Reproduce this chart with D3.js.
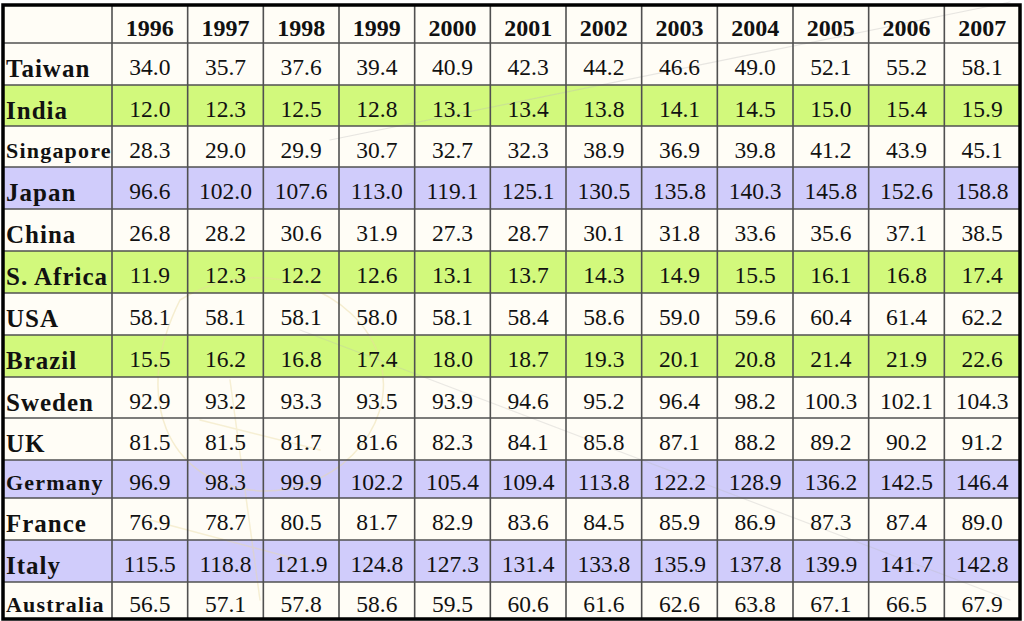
<!DOCTYPE html>
<html>
<head>
<meta charset="utf-8">
<script src="https://cdn.jsdelivr.net/npm/d3@7"></script>
<style>
  html, body { margin: 0; padding: 0; background: #ffffff; }
  svg { display: block; }
</style>
</head>
<body>
<svg id="chart" width="1024" height="621"></svg>
<script>
// ---- data ----
const years = ["1996","1997","1998","1999","2000","2001","2002","2003","2004","2005","2006","2007"];
const countries = ["Taiwan","India","Singapore","Japan","China","S. Africa","USA","Brazil","Sweden","UK","Germany","France","Italy","Australia"];
const taiwan    = [34.0, 35.7, 37.6, 39.4, 40.9, 42.3, 44.2, 46.6, 49.0, 52.1, 55.2, 58.1];
const india     = [12.0, 12.3, 12.5, 12.8, 13.1, 13.4, 13.8, 14.1, 14.5, 15.0, 15.4, 15.9];
const singapore = [28.3, 29.0, 29.9, 30.7, 32.7, 32.3, 38.9, 36.9, 39.8, 41.2, 43.9, 45.1];
const japan     = [96.6, 102.0, 107.6, 113.0, 119.1, 125.1, 130.5, 135.8, 140.3, 145.8, 152.6, 158.8];
const china     = [26.8, 28.2, 30.6, 31.9, 27.3, 28.7, 30.1, 31.8, 33.6, 35.6, 37.1, 38.5];
const safrica   = [11.9, 12.3, 12.2, 12.6, 13.1, 13.7, 14.3, 14.9, 15.5, 16.1, 16.8, 17.4];
const usa       = [58.1, 58.1, 58.1, 58.0, 58.1, 58.4, 58.6, 59.0, 59.6, 60.4, 61.4, 62.2];
const brazil    = [15.5, 16.2, 16.8, 17.4, 18.0, 18.7, 19.3, 20.1, 20.8, 21.4, 21.9, 22.6];
const sweden    = [92.9, 93.2, 93.3, 93.5, 93.9, 94.6, 95.2, 96.4, 98.2, 100.3, 102.1, 104.3];
const uk        = [81.5, 81.5, 81.7, 81.6, 82.3, 84.1, 85.8, 87.1, 88.2, 89.2, 90.2, 91.2];
const germany   = [96.9, 98.3, 99.9, 102.2, 105.4, 109.4, 113.8, 122.2, 128.9, 136.2, 142.5, 146.4];
const france    = [76.9, 78.7, 80.5, 81.7, 82.9, 83.6, 84.5, 85.9, 86.9, 87.3, 87.4, 89.0];
const italy     = [115.5, 118.8, 121.9, 124.8, 127.3, 131.4, 133.8, 135.9, 137.8, 139.9, 141.7, 142.8];
const australia = [56.5, 57.1, 57.8, 58.6, 59.5, 60.6, 61.6, 62.6, 63.8, 67.1, 66.5, 67.9];
const seriesValues = [taiwan, india, singapore, japan, china, safrica, usa, brazil, sweden, uk, germany, france, italy, australia];
// row highlight group: 0 = plain, 1 = green, 2 = lavender
const rowGroup = [0, 1, 0, 2, 0, 1, 0, 1, 0, 0, 2, 0, 2, 0];

// ---- layout ----
const W = 1024, H = 621;
const tLeft = 3, tRight = 1020, tTop = 5, tBottom = 619;
const labelColRight = 112;
const headerBottom = 43;
const rowEdges = [43, 85, 126, 167, 209, 251, 293, 335, 377, 418, 460, 498, 540, 582, 619];

const svg = d3.select("#chart");

const x = d3.scaleBand().domain(years).range([labelColRight, tRight]);
const rowTop = d3.scaleOrdinal().domain(countries).range(rowEdges.slice(0, -1));
const rowBot = d3.scaleOrdinal().domain(countries).range(rowEdges.slice(1));
const fillScale = d3.scaleOrdinal().domain([0, 1, 2]).range(["#fffdf6", "#d2f97c", "#d0ccfb"]);

// background
svg.append("rect").attr("x", 0).attr("y", 0).attr("width", W).attr("height", H).attr("fill", "#ffffff");
svg.append("rect").attr("x", tLeft).attr("y", tTop).attr("width", tRight - tLeft).attr("height", tBottom - tTop).attr("fill", "#fffdf6");

// row fills
svg.append("g").selectAll("rect")
  .data(countries)
  .join("rect")
  .attr("x", tLeft)
  .attr("y", d => rowTop(d))
  .attr("width", tRight - tLeft)
  .attr("height", d => rowBot(d) - rowTop(d))
  .attr("fill", (d, i) => fillScale(rowGroup[i]));

// faint watermark decoration
const wm = svg.append("g").attr("fill", "none").attr("stroke-linecap", "round");
wm.append("path").attr("d", "M330,140 L1010,2").attr("stroke", "#bbbbbb").attr("stroke-opacity", 0.35).attr("stroke-width", 1.2);
wm.append("path").attr("d", "M300,330 L1010,600").attr("stroke", "#bbbbbb").attr("stroke-opacity", 0.3).attr("stroke-width", 1.2);
wm.append("path").attr("d", "M180,300 C260,250 360,290 380,360 C400,430 330,500 250,490 C170,480 130,400 180,300 Z")
  .attr("stroke", "#e8d9a0").attr("stroke-opacity", 0.45).attr("stroke-width", 1.5);
wm.append("path").attr("d", "M230,380 L260,600 M200,420 L320,450 M150,520 L300,560")
  .attr("stroke", "#e8d9a0").attr("stroke-opacity", 0.4).attr("stroke-width", 1.5);

// grid lines
const grid = svg.append("g").attr("stroke", "#505050").attr("stroke-width", 1.6);
grid.selectAll("line.h")
  .data(rowEdges.slice(0, -1))
  .join("line")
  .attr("class", "h")
  .attr("x1", tLeft).attr("x2", tRight)
  .attr("y1", d => d).attr("y2", d => d);
grid.selectAll("line.v")
  .data(years)
  .join("line")
  .attr("class", "v")
  .attr("x1", d => x(d)).attr("x2", d => x(d))
  .attr("y1", tTop).attr("y2", tBottom);

// outer border
svg.append("rect")
  .attr("x", tLeft).attr("y", tTop)
  .attr("width", tRight - tLeft).attr("height", tBottom - tTop)
  .attr("fill", "none").attr("stroke", "#000").attr("stroke-width", 3.5);

const serif = "Liberation Serif, Times New Roman, serif";

// header
svg.append("g").selectAll("text")
  .data(years)
  .join("text")
  .attr("x", d => x(d) + x.bandwidth() / 2)
  .attr("y", (tTop + headerBottom) / 2 + 12)
  .attr("text-anchor", "middle")
  .attr("font-family", serif)
  .attr("font-weight", "bold")
  .attr("font-size", 24)
  .attr("fill", "#111")
  .text(d => d);

// row labels
const smallLabels = new Set(["Singapore", "Germany", "Australia"]);
svg.append("g").selectAll("text")
  .data(countries)
  .join("text")
  .attr("x", 6)
  .attr("y", d => (rowTop(d) + rowBot(d)) / 2 + (smallLabels.has(d) ? 11 : 13))
  .attr("font-family", serif)
  .attr("font-weight", "bold")
  .attr("font-size", d => smallLabels.has(d) ? 22 : 25)
  .attr("letter-spacing", d => smallLabels.has(d) ? 1.2 : 1)
  .attr("fill", "#111")
  .text(d => d);

// values
const cells = [];
countries.forEach((c, i) => {
  seriesValues[i].forEach((v, j) => cells.push({ c, y: years[j], v }));
});
svg.append("g").selectAll("text")
  .data(cells)
  .join("text")
  .attr("x", d => x(d.y) + x.bandwidth() / 2)
  .attr("y", d => (rowTop(d.c) + rowBot(d.c)) / 2 + 11)
  .attr("text-anchor", "middle")
  .attr("font-family", serif)
  .attr("font-size", 23.5)
  .attr("fill", "#111")
  .text(d => d3.format(".1f")(d.v));
</script>
</body>
</html>
